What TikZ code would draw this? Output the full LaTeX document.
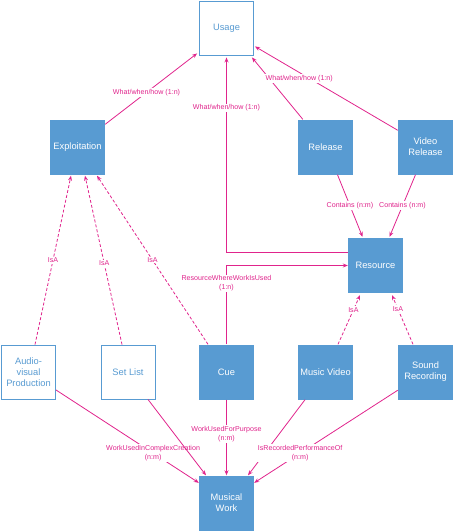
\documentclass[tikz,border=0pt]{standalone}
\usepackage{fontspec}
\setmainfont{Liberation Sans}
\usetikzlibrary{arrows.meta,positioning}
\definecolor{boxblue}{RGB}{88,155,210}
\definecolor{relpink}{RGB}{224,36,140}
\tikzset{>={Stealth[length=5pt,width=4pt]}}
\tikzset{
  fullbox/.style={fill=boxblue,minimum size=55pt,inner sep=1pt,
    text=white,align=center,font=\fontsize{9.3}{11}\selectfont},
  openbox/.style={fullbox,fill=white,draw=boxblue,line width=0.9pt,
    minimum size=54pt,text=boxblue},
  rel/.style={draw=relpink,line width=0.8pt,->},
  isa/.style={rel,dash pattern=on 3pt off 2pt},
  lbl/.style={fill=white,text=relpink,inner sep=1pt,align=center,
    font=\fontsize{7.1}{9}\selectfont}
}

\begin{document}
\begin{tikzpicture}[x=1pt,y=-1pt]
\useasboundingbox (0,0) rectangle (453,531);

% boxes
\node[openbox] (usage) at (226.5,28) {Usage};
\node[fullbox] (exploit) at (77.5,147) {Exploitation};
\node[fullbox] (release) at (325.5,147) {Release};
\node[fullbox] (vrelease) at (425.5,147) {Video\\Release};
\node[fullbox] (resource) at (375.5,265.5) {Resource};
\node[openbox] (avp) at (28.5,372) {Audio-\\visual\\Production};
\node[openbox] (setlist) at (128,372) {Set List};
\node[fullbox] (cue) at (226.5,372) {Cue};
\node[fullbox] (mvideo) at (325.5,372) {Music Video};
\node[fullbox] (sound) at (425.5,372) {Sound\\Recording};
\node[fullbox] (work) at (226.5,503) {Musical\\Work};

% usage
\draw[rel] ([yshift=-5pt]exploit.north east) -- ([xshift=-2pt,yshift=2pt]usage.south west)
    node[lbl,pos=0.45] {What/when/how (1:n)};
\draw[rel] ([xshift=5pt]release.north west) -- ([xshift=-2pt,yshift=-2pt]usage.south east);
\draw[rel] ([yshift=-11pt]vrelease.north west) -- ([xshift=1pt,yshift=9pt]usage.south east)
    node[lbl,pos=0.69,yshift=-6pt] {What/when/how (1:n)};
\draw[rel] ([yshift=13.5pt]resource.west) -| ([yshift=-2pt]usage.south)
    node[lbl,pos=0.87] {What/when/how (1:n)};

% resource
\draw[rel] (cue.north) |- (resource.west)
    node[lbl,pos=0.385] {ResourceWhereWorkIsUsed\\(1:n)};
\draw[rel] ([xshift=12pt]release.south) -- ([xshift=-13pt,yshift=1pt]resource.north)
    node[lbl,midway] {Contains (n:m)};
\draw[rel] ([xshift=-10pt]vrelease.south) -- ([xshift=14pt,yshift=1pt]resource.north)
    node[lbl,midway] {Contains (n:m)};

% IsA
\draw[isa] ([xshift=6.5pt]avp.north) -- ([xshift=-6.5pt,yshift=-1pt]exploit.south)
    node[lbl,midway] {IsA};
\draw[isa] ([xshift=-6pt]setlist.north) -- ([xshift=7.5pt,yshift=-1pt]exploit.south)
    node[lbl,pos=0.48] {IsA};
\draw[isa] ([xshift=-18.5pt]cue.north) -- ([xshift=19.5pt,yshift=-1pt]exploit.south)
    node[lbl,midway] {IsA};
\draw[isa] ([xshift=12.5pt]mvideo.north) -- ([xshift=-15.5pt,yshift=-2pt]resource.south)
    node[lbl,pos=0.7] {IsA};
\draw[isa] ([xshift=-12.5pt]sound.north) -- ([xshift=16.5pt,yshift=-2pt]resource.south)
    node[lbl,pos=0.72] {IsA};

% musical work
\draw[rel] ([yshift=9.5pt]avp.south east) -- ([yshift=-7.5pt]work.north west)
    node[lbl,pos=0.68] {WorkUsedInComplexCreation\\(n:m)};
\draw[rel] ([xshift=20pt]setlist.south) -- ([xshift=-20.5pt]work.north);
\draw[rel] (cue.south) -- (work.north)
    node[lbl,pos=0.45] {WorkUsedForPurpose\\(n:m)};
\draw[rel] ([xshift=-20.5pt]mvideo.south) -- ([xshift=21.5pt]work.north);
\draw[rel] ([yshift=9.5pt]sound.south west) -- ([yshift=-7.5pt]work.north east)
    node[lbl,pos=0.68] {IsRecordedPerformanceOf\\(n:m)};
\end{tikzpicture}
\end{document}
